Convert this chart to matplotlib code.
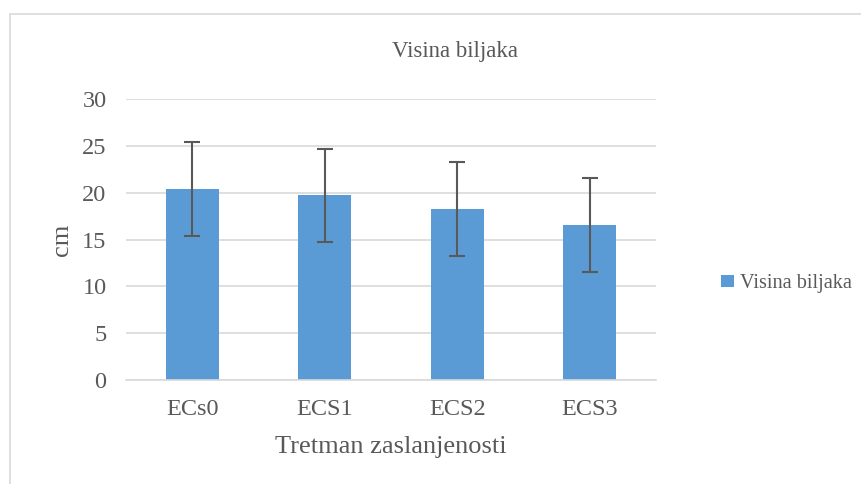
import matplotlib.pyplot as plt
from matplotlib.patches import Rectangle

categories = ["ECs0", "ECS1", "ECS2", "ECS3"]
heights = [20.4, 19.7, 18.25, 16.55]
errors = [5.0, 5.0, 5.0, 5.0]
y_ticks = [0, 5, 10, 15, 20, 25, 30]

BAR_COLOR = "#5b9bd5"
TEXT_COLOR = "#595959"
GRID_COLOR = "#d9d9d9"

plt.rcParams["font.family"] = ["Liberation Serif", "DejaVu Serif"]

fig = plt.figure(figsize=(8.61, 4.84), dpi=100)
ax = fig.add_axes([126 / 861, 1 - 380 / 484, 530 / 861, 281 / 484])

# outer chart frame, cut off at the right and bottom like the screenshot
fig.patches.append(Rectangle((10 / 861, -0.1), 1.2, 1 - 14 / 484 + 0.1,
                             transform=fig.transFigure, fill=False,
                             edgecolor="#d9d9d9", linewidth=1.2))

x = range(len(categories))
ax.bar(x, heights, width=0.4, color=BAR_COLOR, label="Visina biljaka", zorder=2)
ax.errorbar(x, heights, yerr=errors, fmt="none", ecolor="#595959",
            elinewidth=1.5, capsize=6, capthick=1.5, zorder=3)

ax.set_xlim(-0.5, len(categories) - 0.5)
ax.set_ylim(0, 30)
ax.set_yticks(y_ticks)
ax.set_xticks(list(x))
ax.set_xticklabels(categories)
ax.yaxis.grid(True, color=GRID_COLOR, linewidth=1.2, zorder=0)
ax.set_axisbelow(True)
for side in ["top", "right", "left"]:
    ax.spines[side].set_visible(False)
ax.spines["bottom"].set_color(GRID_COLOR)
ax.spines["bottom"].set_linewidth(1.2)
ax.tick_params(length=0, labelsize=17.5, colors=TEXT_COLOR)
ax.tick_params(axis="y", pad=14)
ax.tick_params(axis="x", pad=14)

fig.text(455 / 861, 1 - 52 / 484, "Visina biljaka", fontsize=16.5,
         color=TEXT_COLOR, ha="center", va="center")
ax.set_ylabel("cm", fontsize=19, color=TEXT_COLOR, va="center")
ax.yaxis.set_label_coords(-0.121, 0.5)
ax.set_xlabel("Tretman zaslanjenosti", fontsize=19, color=TEXT_COLOR, va="center")
ax.xaxis.set_label_coords(0.5, -0.238)

ax.legend(loc="center left", bbox_to_anchor=(1.089, 0.343), frameon=False,
          fontsize=14.6, labelcolor=TEXT_COLOR, handlelength=0.6, handleheight=0.6,
          handletextpad=0.3)

fig.savefig("out.png", dpi=100)
